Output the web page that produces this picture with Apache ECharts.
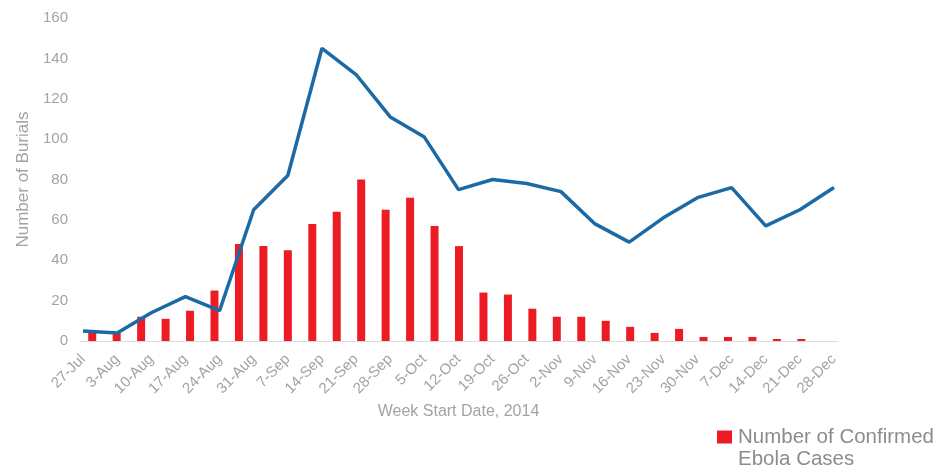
<!DOCTYPE html>
<html><head><meta charset="utf-8">
<script src="https://cdn.jsdelivr.net/npm/echarts@6/dist/echarts.min.js"></script>
<style>html,body{margin:0;padding:0;background:#fff}#c{width:941px;height:473px}</style>
</head><body><div id="c"></div>
<script>
var weekLabels = ['27-Jul','3-Aug','10-Aug','17-Aug','24-Aug','31-Aug','7-Sep','14-Sep','21-Sep','28-Sep','5-Oct','12-Oct','19-Oct','26-Oct','2-Nov','9-Nov','16-Nov','23-Nov','30-Nov','7-Dec','14-Dec','21-Dec','28-Dec'];
var burials = [5,4,14,22,15,65,82,145,132,111,101,75,80,78,74,58,49,61,71,76,57,65,76];
var confirmedCases = [4,4,12,11,15,25,48,47,45,58,64,80,65,71,57,47,24,23,16,12,12,10,7,4,6,2,2,2,1,1,null];
var barSlots = confirmedCases.map(function(_, i){ return 'b' + i; });
var yTicks = {min:0, max:160, interval:20};

var chart = echarts.init(document.getElementById('c'));
var gray = '#a3a3a3';
chart.setOption({
  animation:false,
  grid:[
    {left:83, right:107, top:18, bottom:132},
    {left:80, right:103, top:18, bottom:132}
  ],
  legend:{
    data:['Number of Confirmed Ebola Cases'],
    left:712, top:421, itemGap:6,
    icon:'path://M0,0L15,0L15,13L0,13Z M0,34.98L0.02,34.98L0.02,35Z',
    itemWidth:15, itemHeight:35,
    formatter:function(){ return 'Number of Confirmed\nEbola Cases'; },
    textStyle:{color:'#8c8c8c', fontSize:20.5, fontFamily:'Liberation Sans, Arial', lineHeight:22, padding:[0,0,0,1]}
  },
  xAxis:[
    {type:'category', gridIndex:0, data:weekLabels, boundaryGap:false,
     axisLine:{show:false}, axisTick:{show:false},
     axisLabel:{rotate:45, color:gray, fontSize:15, fontFamily:'Liberation Sans, Arial', margin:16, interval:0},
     name:'Week Start Date, 2014', nameLocation:'middle', nameGap:63,
     nameTextStyle:{color:gray, fontSize:16, fontFamily:'Liberation Sans, Arial'}},
    {type:'category', gridIndex:1, data:barSlots, boundaryGap:true,
     axisLine:{show:true, lineStyle:{color:'#dcdcdc', width:1}}, axisTick:{show:false},
     axisLabel:{show:false}}
  ],
  yAxis:[
    {type:'value', gridIndex:0, min:yTicks.min, max:yTicks.max, interval:yTicks.interval,
     splitLine:{show:false}, axisLine:{show:false}, axisTick:{show:false},
     axisLabel:{color:gray, fontSize:15, fontFamily:'Liberation Sans, Arial', margin:15},
     name:'Number of Burials', nameLocation:'middle', nameGap:42,
     nameTextStyle:{color:gray, fontSize:17, fontFamily:'Liberation Sans, Arial'}},
    {type:'value', gridIndex:1, min:yTicks.min, max:yTicks.max, interval:yTicks.interval,
     show:false, splitLine:{show:false}}
  ],
  series:[
    {name:'Number of Confirmed Ebola Cases', type:'bar', xAxisIndex:1, yAxisIndex:1,
     data:confirmedCases, barWidth:8, itemStyle:{color:'#ed1c24'}, z:2},
    {name:'Number of Burials', type:'line', xAxisIndex:0, yAxisIndex:0,
     data:burials, symbol:'none', lineStyle:{color:'#1b6aa5', width:3.5}, z:3}
  ]
});
</script></body></html>
